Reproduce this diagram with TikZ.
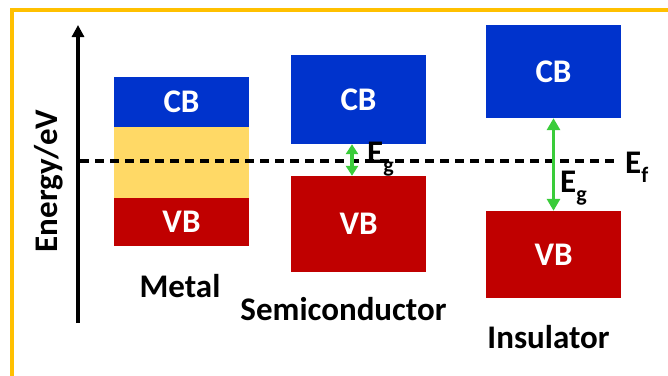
\documentclass[tikz,border=0pt]{standalone}
\usepackage{fontspec}
\setmainfont{Carlito}
\usetikzlibrary{arrows.meta}
\definecolor{Canvas}{HTML}{FFFFFF}
\definecolor{Frame}{HTML}{FFC000}
\definecolor{CBBlue}{HTML}{0033CC}
\definecolor{VBRed}{HTML}{C00000}
\definecolor{FillGold}{HTML}{FFD966}
\definecolor{GapGreen}{HTML}{3ACC3A}
\definecolor{Ink}{HTML}{000000}
\newcommand{\lowsub}[1]{\raisebox{-9pt}{\fontsize{22}{26}\selectfont #1}}
\begin{document}
\begin{tikzpicture}[x=1pt,y=-1pt,
  band/.style={draw=none, inner sep=0pt, minimum width=135pt, text=white, font=\fontsize{33}{39}\selectfont\bfseries},
  label/.style={inner sep=0pt, text=Ink, font=\fontsize{33}{39}\selectfont\bfseries},
  gap/.style={GapGreen, line width=3.5pt, {Triangle[length=10pt,width=12pt]}-{Triangle[length=10pt,width=12pt]}},
  bigap/.style={GapGreen, line width=3.5pt, {Triangle[length=12pt,width=13pt]}-{Triangle[length=12pt,width=13pt]}}]
\useasboundingbox (0,0) rectangle (668,375);
\fill[Canvas] (0,0) rectangle (668,375);
\draw[Frame, line width=3.5pt] (12,377) -- (12,10) -- (670,10);
\coordinate (O) at (78,323);\coordinate (T) at (78,25);
\draw[Ink, line width=3.5pt, -{Triangle[length=12pt,width=12pt]}] (O) -- (T);
\node[label, rotate=90, anchor=base] (energy) at (57,181){Energy/eV};
\node[band, fill=FillGold, minimum height=71pt] (mFill) at (181.5,162.5){};
\node[band, fill=CBBlue, minimum height=50pt] (mCB) at (181.5,102){CB};
\node[band, fill=VBRed, minimum height=48pt] (mVB) at (181.5,222){VB};
\node[band, fill=CBBlue, minimum height=89pt] (sCB) at (358.5,99.5){CB};
\node[band, fill=VBRed, minimum height=96pt] (sVB) at (358.5,224){VB};
\node[band, fill=CBBlue, minimum height=93pt] (iCB) at (553.5,71.5){CB};
\node[band, fill=VBRed, minimum height=87pt] (iVB) at (553.5,254.5){VB};
\coordinate (F0) at (80,161);\coordinate (F1) at (618,161);
\draw[Ink, line width=3.5pt, dash pattern=on 9pt off 6pt] (F0) -- (F1);
\node[label, anchor=base west] (Ef) at (625,173){E\lowsub{f}};
\draw[gap] ([xshift=-6.5pt]sCB.south) -- ([xshift=-6.5pt]sVB.north);
\node[label, anchor=base west] (sEg) at (367,163){E\lowsub{g}};
\draw[bigap] (iCB.south) -- (iVB.north);
\node[label, anchor=base west] (iEg) at (560,192){E\lowsub{g}};
\node[label, anchor=base] (metal) at (180,297){Metal};
\node[label, anchor=base] (semi) at (343.5,320){Semiconductor};
\node[label, anchor=base] (insul) at (548.5,348){Insulator};
\end{tikzpicture}
\end{document}
